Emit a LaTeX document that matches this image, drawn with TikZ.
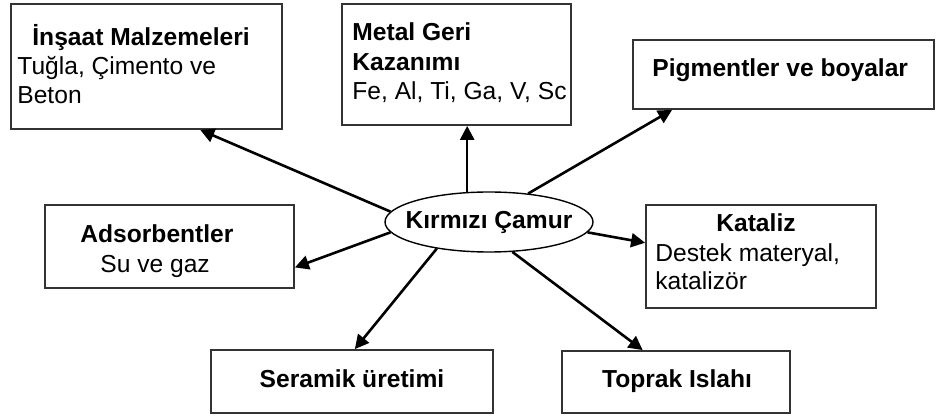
\documentclass[tikz,border=0pt]{standalone}
\usepackage{fontspec}
\setmainfont{Liberation Sans}
\usepackage{tikz}
\usetikzlibrary{shapes.geometric, arrows.meta, positioning, calc}
\tikzstyle{spoke} = [line width=1.3pt, -{Triangle[length=7pt,width=7pt]}]
\tikzstyle{box} = [draw=black!80, line width=0.9pt, rectangle, inner sep=0pt]
\tikzstyle{txt} = [inner sep=0pt, anchor=base west]
\tikzstyle{ttl} = [txt, font=\fontsize{12.3}{15}\selectfont\bfseries]

\begin{document}
\begin{tikzpicture}[x=0.5pt, y=-0.5pt, every node/.style={font=\fontsize{12.3}{15}\selectfont}]
\useasboundingbox (0,0) rectangle (937,416);
% Boxes
\node (inshaat) [box, minimum width=135.5pt, minimum height=62.5pt] at (146.5,66.5) {};
\node (metal) [box, minimum width=114.5pt, minimum height=60.5pt] at (456.5,64.5) {};
\node (pigment) [box, minimum width=150.5pt, minimum height=34.5pt] at (783.5,74.5) {};
\node (adsorb) [box, minimum width=124.5pt, minimum height=41.5pt] at (169.5,246.5) {};
\node (kataliz) [box, minimum width=115pt, minimum height=51.5pt] at (761,256.5) {};
\node (seramik) [box, minimum width=141pt, minimum height=31.5pt] at (352,381.5) {};
\node (toprak) [box, minimum width=114pt, minimum height=31pt] at (676,382) {};
\node (crm) [draw, ellipse, line width=0.7pt, inner sep=0pt, minimum width=104pt, minimum height=30pt, font=\fontsize{12.3}{15}\selectfont\bfseries] at (489,222) {\makebox[0pt]{Kırmızı Çamur}};

% Texts
\node (inshaatT) [ttl] at (32,46) {İnşaat Malzemeleri};
\node (inshaatA) [txt] at (17,75) {Tuğla, Çimento ve};
\node (inshaatB) [txt] at (17,104) {Beton};
\node (metalT) [ttl] at (352,41) {Metal Geri};
\node (metalU) [ttl] at (352,71) {Kazanımı};
\node (metalA) [txt] at (352,100) {Fe, Al, Ti, Ga, V, Sc};
\node (pigmentT) [ttl] at (652,77) {Pigmentler ve boyalar};
\node (adsorbT) [ttl] at (80,243) {Adsorbentler};
\node (adsorbA) [txt] at (100,273) {Su ve gaz};
\node (katalizT) [ttl, anchor=base] at (756,232) {Kataliz};
\node (katalizA) [txt] at (655,262) {Destek materyal,};
\node (katalizB) [txt] at (655,290) {katalizör};
\node (seramikT) [ttl, anchor=base] at (352,388) {Seramik üretimi};
\node (toprakT) [ttl, anchor=base] at (677,388) {Toprak Islahı};

% Edges
\draw [spoke] (crm.174) -- ($(inshaat.south west)!0.697!(inshaat.south east)$);
\draw [spoke] (crm.126) -- (crm.126 |- metal.south);
\draw [spoke] (crm.36) -- ($(pigment.south west)!0.132!(pigment.south east)$);
\draw [spoke] (crm.186) -- ($(adsorb.north east)!0.747!(adsorb.south east)$);
\draw [spoke] (crm.354) -- ($(kataliz.north west)!0.369!(kataliz.south west)$);
\draw [spoke] (crm.207) -- ($(seramik.north west)!0.51!(seramik.north east)$);
\draw [spoke] (crm.308) -- ($(toprak.north west)!0.355!(toprak.north east)$);
\end{tikzpicture}
\end{document}
